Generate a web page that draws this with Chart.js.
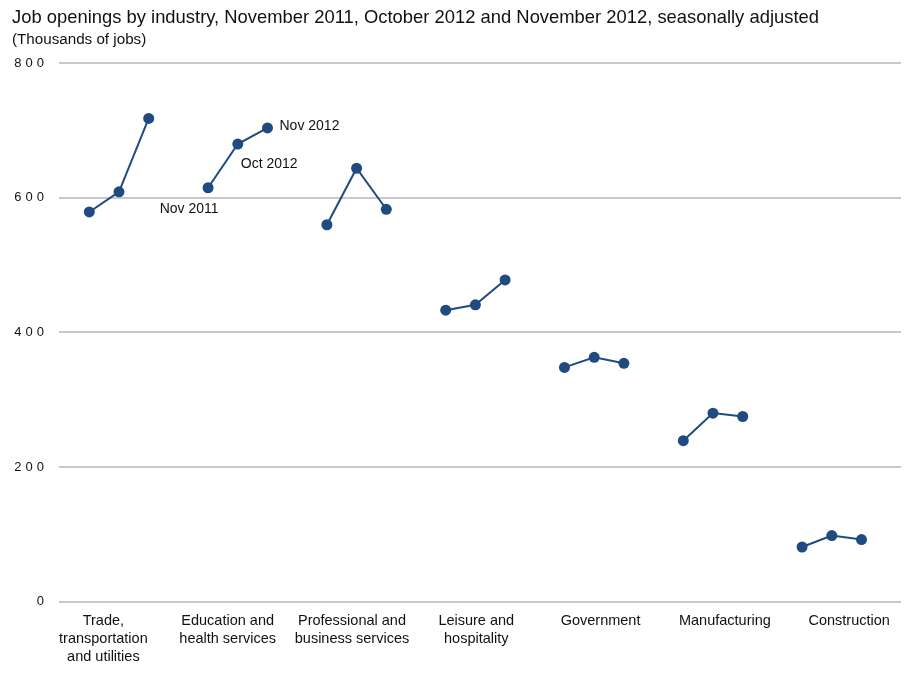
<!DOCTYPE html>
<html>
<head>
<meta charset="utf-8">
<script src="https://cdn.jsdelivr.net/npm/chart.js@4.4.1/dist/chart.umd.min.js"></script>
<style>
  html, body { margin: 0; padding: 0; background: #ffffff; }
  #wrap { position: relative; width: 924px; height: 676px; font-family: "Liberation Sans", Arial, Helvetica, sans-serif; color: #111; }
  #title { position: absolute; left: 12px; top: 6px; font-size: 18.4px; line-height: 22px; white-space: nowrap; }
  #subtitle { position: absolute; left: 12px; top: 30px; font-size: 15.2px; line-height: 18px; white-space: nowrap; }
  canvas { position: absolute; left: 0; top: 0; }
</style>
</head>
<body>
<div id="wrap">
  <canvas id="c" width="924" height="676"></canvas>
  <div id="title">Job openings by industry, November 2011, October 2012 and November 2012, seasonally adjusted</div>
  <div id="subtitle">(Thousands of jobs)</div>
</div>
<script>
// ---- data ----
const categories = [
  ["Trade,", "transportation", "and utilities"],
  ["Education and", "health services"],
  ["Professional and", "business services"],
  ["Leisure and", "hospitality"],
  ["Government"],
  ["Manufacturing"],
  ["Construction"]
];
const periods = ["Nov 2011", "Oct 2012", "Nov 2012"];
const nov2011 = [579, 615, 560, 433, 348, 239, 81];
const oct2012 = [609, 680, 644, 441, 363, 280, 98];
const nov2012 = [718, 704, 583, 478, 354, 275, 92];
const yTicks = [0, 200, 400, 600, 800];

const FONT = "'Liberation Sans', Arial, Helvetica, sans-serif";
const BLUE = "#1f4b80";
const series = [nov2011, oct2012, nov2012];

const datasets = categories.map((cat, c) => ({
  label: cat.join(" "),
  data: series.map((s, j) => ({ x: c * 4 + j, y: s[c] })),
  xAxisID: "x",
  yAxisID: "y",
  borderColor: BLUE,
  backgroundColor: BLUE,
  borderWidth: 2,
  pointRadius: 5.5,
  pointBorderWidth: 0,
  pointBackgroundColor: BLUE,
  tension: 0
}));

const annotatePlugin = {
  id: "annotate",
  beforeDraw(chart) {
    const s = chart.scales.y;
    if (s && !s._lsWrapped) {
      const orig = s.drawLabels;
      s.drawLabels = function (ca) {
        const ctx = this.ctx;
        ctx.save();
        ctx.letterSpacing = "4px";
        orig.call(this, ca);
        ctx.restore();
      };
      s._lsWrapped = true;
    }
  },
  afterDatasetsDraw(chart) {
    const meta = chart.getDatasetMeta(1); // Education and health services
    const pts = meta.data;
    const ctx = chart.ctx;
    ctx.save();
    ctx.font = "14px " + FONT;
    ctx.fillStyle = "#111";
    ctx.textBaseline = "middle";
    ctx.textAlign = "center";
    ctx.fillText(periods[0], pts[0].x - 19, pts[0].y + 21);
    ctx.textAlign = "left";
    ctx.fillText(periods[1], pts[1].x + 3, pts[1].y + 20);
    ctx.fillText(periods[2], pts[2].x + 12, pts[2].y - 2);
    ctx.restore();
  }
};

new Chart(document.getElementById("c"), {
  type: "line",
  data: { datasets },
  plugins: [annotatePlugin],
  options: {
    responsive: false,
    animation: false,
    events: [],
    layout: { padding: { top: 63.3, right: 23, bottom: 0, left: 0 } },
    plugins: { legend: { display: false }, tooltip: { enabled: false }, title: { display: false } },
    scales: {
      x: {
        type: "linear",
        display: false,
        min: -1.02,
        max: 27.33
      },
      xl: {
        type: "linear",
        position: "bottom",
        min: -0.357,
        max: 6.417,
        grid: { display: false, drawTicks: false },
        border: { display: false },
        afterBuildTicks(scale) {
          scale.ticks = categories.map((_, i) => ({ value: i }));
        },
        afterFit(scale) { scale.height = 74.5; },
        ticks: {
          autoSkip: false,
          maxRotation: 0,
          minRotation: 0,
          padding: 11,
          color: "#111",
          font: { family: FONT, size: 14.5, lineHeight: 1.24 },
          callback: (v) => categories[Math.round(v)] || ""
        }
      },
      y: {
        type: "linear",
        position: "left",
        min: 0,
        max: 800,
        afterBuildTicks(scale) {
          scale.ticks = yTicks.map(v => ({ value: v }));
        },
        afterFit(scale) { scale.width = 59; },
        grid: { color: "#c8c8c8", lineWidth: 2, drawTicks: false },
        border: { display: false },
        ticks: {
          padding: 11,
          color: "#111",
          font: { family: FONT, size: 13 },
          callback: (v) => String(v)
        }
      }
    }
  }
});
</script>
</body>
</html>
